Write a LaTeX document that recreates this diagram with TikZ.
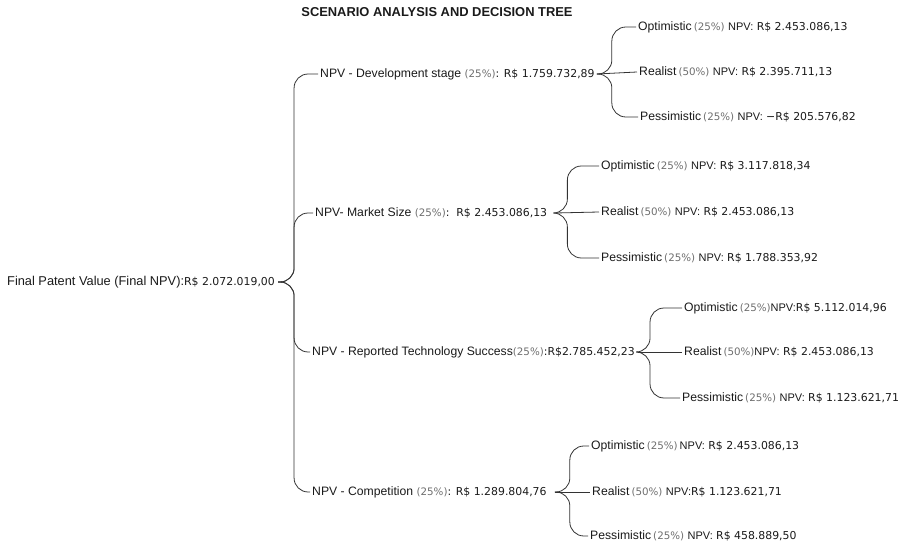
\documentclass[tikz,border=0pt]{standalone}
\usepackage{fontspec}
\setmainfont{Liberation Sans}
\newfontfamily\numf{DejaVu Sans}
\usetikzlibrary{calc}
\definecolor{ink}{HTML}{1A1A1A}
\definecolor{pct}{HTML}{6E6E6E}
\definecolor{wire}{HTML}{333333}
\newcommand{\nm}[1]{{\numf\fontsize{10.9}{12}\selectfont #1}}
\newcommand{\pc}[1]{{\numf\fontsize{10.3}{12}\selectfont\color{pct}#1}}
\newcommand{\np}{{\fontsize{11}{13}\selectfont NPV:}}
\newcommand{\treelink}[4]{%
  \draw[conn] let \p1=(#1.east), \p2=(#2.west) in
    (\x1+#3,\y1) -- (\x1+#4,\y1) -- (\x1+#4,\y2) -- (\x2-2pt,\y2);}
\newcommand{\straightlink}[3]{%
  \draw[conn] let \p1=(#1.east), \p2=(#2.west) in
    (\x1+#3,\y1) -- (\x2-2pt,\y2);}
\tikzset{
  lab/.style={anchor=west, inner sep=0pt, text=ink, font=\fontsize{12.2}{14}\selectfont},
  conn/.style={draw=wire, line width=0.8pt, rounded corners=14pt},
  ttl/.style={inner sep=0pt, text=ink, font=\bfseries\fontsize{12.9}{15}\selectfont}
}
\begin{document}
\begin{tikzpicture}[x=1pt,y=-1pt]
\useasboundingbox (0,0) rectangle (906,545);
\node[ttl] (title) at (437,12) {SCENARIO ANALYSIS AND DECISION TREE};

\node[lab, font=\fontsize{12.8}{14}\selectfont] (root) at (7,282) {Final Patent Value (Final NPV):\nm{R\$ 2.072.019,00}};

\node[lab] (b1) at (320,74) {NPV - Development stage \pc{(25\%)}\nm{: R\$ 1.759.732,89}};
\node[lab] (b2) at (315,213) {NPV- Market Size \pc{(25\%)}\nm{:\ \ R\$ 2.453.086,13}};
\node[lab] (b3) at (312,352) {NPV - Reported Technology Success\pc{(25\%)}\nm{:R\$2.785.452,23}};
\node[lab] (b4) at (312,492) {NPV - Competition \pc{(25\%)}\nm{: R\$ 1.289.804,76}};

\node[lab] (b1o) at (638,27) {Optimistic\,\pc{(25\%)} \np\ \nm{R\$ 2.453.086,13}};
\node[lab] (b1r) at (639,72) {Realist\,\pc{(50\%)} \np\ \nm{R\$ 2.395.711,13}};
\node[lab] (b1p) at (640,117) {Pessimistic\,\pc{(25\%)} \np\ \nm{−R\$ 205.576,82}};

\node[lab] (b2o) at (601,166) {Optimistic\,\pc{(25\%)} \np\ \nm{R\$ 3.117.818,34}};
\node[lab] (b2r) at (601,212) {Realist\,\pc{(50\%)} \np\ \nm{R\$ 2.453.086,13}};
\node[lab] (b2p) at (601,258) {Pessimistic\,\pc{(25\%)} \np\ \nm{R\$ 1.788.353,92}};

\node[lab] (b3o) at (684,308) {Optimistic\,\pc{(25\%)}\np\nm{R\$ 5.112.014,96}};
\node[lab] (b3r) at (684,352) {Realist\,\pc{(50\%)}\np\ \nm{R\$ 2.453.086,13}};
\node[lab] (b3p) at (682,398) {Pessimistic\,\pc{(25\%)} \np\ \nm{R\$ 1.123.621,71}};

\node[lab] (b4o) at (591,446) {Optimistic\,\pc{(25\%)}\,\np\ \nm{R\$ 2.453.086,13}};
\node[lab] (b4r) at (592,492) {Realist\,\pc{(50\%)} \np\nm{R\$ 1.123.621,71}};
\node[lab] (b4p) at (590,536) {Pessimistic\,\pc{(25\%)} \np\ \nm{R\$ 458.889,50}};

\treelink{root}{b1}{3pt}{19pt}
\treelink{root}{b2}{3pt}{19pt}
\treelink{root}{b3}{3pt}{19pt}
\treelink{root}{b4}{3pt}{19pt}

\treelink{b1}{b1o}{2pt}{17pt}
\straightlink{b1}{b1r}{2pt}
\treelink{b1}{b1p}{2pt}{17pt}

\treelink{b2}{b2o}{8pt}{20pt}
\straightlink{b2}{b2r}{8pt}
\treelink{b2}{b2p}{8pt}{20pt}

\treelink{b3}{b3o}{3pt}{15pt}
\straightlink{b3}{b3r}{3pt}
\treelink{b3}{b3p}{3pt}{15pt}

\treelink{b4}{b4o}{8pt}{23pt}
\straightlink{b4}{b4r}{8pt}
\treelink{b4}{b4p}{8pt}{23pt}
\end{tikzpicture}
\end{document}
